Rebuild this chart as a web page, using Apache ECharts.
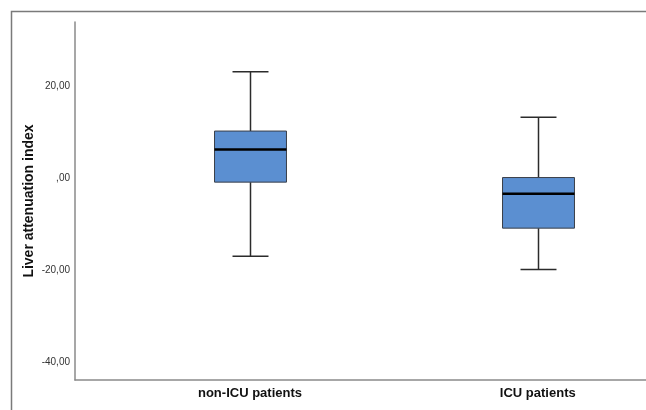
<!DOCTYPE html>
<html>
<head>
<meta charset="utf-8">
<script src="https://cdn.jsdelivr.net/npm/echarts@6/dist/echarts.min.js"></script>
<style>
html,body{margin:0;padding:0;background:#fff;}
#chart{width:646px;height:410px;}
</style>
</head>
<body>
<div id="chart"></div>
<script>
// ---- data ----
var categories = ['non-ICU patients', 'ICU patients'];
var whiskerLow = [-17.0, -19.9];
var q1Values = [-0.9, -10.9];
var medianValues = [6.2, -3.4];
var q3Values = [10.2, 0.1];
var whiskerHigh = [23.1, 13.2];
var yTickValues = [-40, -20, 0, 20];
var yTickLabels = ['-40,00', '-20,00', ',00', '20,00'];

var boxData = categories.map(function (c, i) {
  return [i, whiskerLow[i], q1Values[i], medianValues[i], q3Values[i], whiskerHigh[i]];
});

var chart = echarts.init(document.getElementById('chart'));

function renderBox(params, api) {
  var x = api.value(0);
  var unit = api.size([1, 0])[0];
  var half = unit * 0.125;      // half box width
  var capHalf = unit * 0.0625;  // half whisker cap width
  var pMin = api.coord([x, api.value(1)]);
  var pQ1 = api.coord([x, api.value(2)]);
  var pMed = api.coord([x, api.value(3)]);
  var pQ3 = api.coord([x, api.value(4)]);
  var pMax = api.coord([x, api.value(5)]);
  var cx = Math.round(pMed[0]) + 0.5;
  var lineStyle = { stroke: '#2b2b2b', lineWidth: 1.5, fill: null };
  return {
    type: 'group',
    children: [
      { type: 'line', shape: { x1: cx, y1: pMax[1], x2: cx, y2: pQ3[1] }, style: lineStyle },
      { type: 'line', shape: { x1: cx, y1: pQ1[1], x2: cx, y2: pMin[1] }, style: lineStyle },
      { type: 'line', shape: { x1: cx - capHalf, y1: pMax[1], x2: cx + capHalf, y2: pMax[1] }, style: lineStyle },
      { type: 'line', shape: { x1: cx - capHalf, y1: pMin[1], x2: cx + capHalf, y2: pMin[1] }, style: lineStyle },
      { type: 'rect', shape: { x: cx - half, y: pQ3[1], width: half * 2, height: pQ1[1] - pQ3[1] },
        style: { fill: '#5b8fd1', stroke: '#3a3f48', lineWidth: 1 } },
      { type: 'line', shape: { x1: cx - half, y1: pMed[1], x2: cx + half, y2: pMed[1] },
        style: { stroke: '#000', lineWidth: 2.5 } }
    ]
  };
}

chart.setOption({
  animation: false,
  backgroundColor: '#fff',
  graphic: [{
    type: 'rect',
    shape: { x: 11.5, y: 11.5, width: 800, height: 600 },
    style: { fill: 'none', stroke: '#7a7a7a', lineWidth: 1.5 },
    silent: true
  }],
  grid: { left: 75, right: 0, top: 22, bottom: 30 },
  xAxis: {
    type: 'value',
    min: -0.608,
    max: 1.376,
    axisLine: { show: true, onZero: false, lineStyle: { color: '#8a8a8a', width: 1.5 } },
    axisTick: { show: false },
    splitLine: { show: false },
    axisLabel: {
      customValues: [0, 1],
      formatter: function (v) { return categories[Math.round(v)]; },
      color: '#111',
      fontFamily: 'Liberation Sans',
      fontWeight: 'bold',
      fontSize: 13,
      margin: 7
    }
  },
  yAxis: {
    type: 'value',
    min: -43.9,
    max: 33.9,
    name: 'Liver attenuation index',
    nameLocation: 'middle',
    nameGap: 39,
    nameMoveOverlap: false,
    nameTextStyle: { color: '#111', fontFamily: 'Liberation Sans', fontWeight: 'bold', fontSize: 14 },
    axisLine: { show: true, onZero: false, lineStyle: { color: '#8a8a8a', width: 1.5 } },
    axisTick: { show: false },
    splitLine: { show: false },
    axisLabel: {
      customValues: yTickValues,
      formatter: function (v) {
        var i = yTickValues.indexOf(Math.round(v));
        return i >= 0 ? yTickLabels[i] : '';
      },
      color: '#333',
      fontFamily: 'Liberation Sans',
      fontSize: 10,
      margin: 5
    }
  },
  series: [{
    type: 'custom',
    renderItem: renderBox,
    encode: { x: 0, y: [1, 2, 3, 4, 5] },
    data: boxData
  }]
});
</script>
</body>
</html>
